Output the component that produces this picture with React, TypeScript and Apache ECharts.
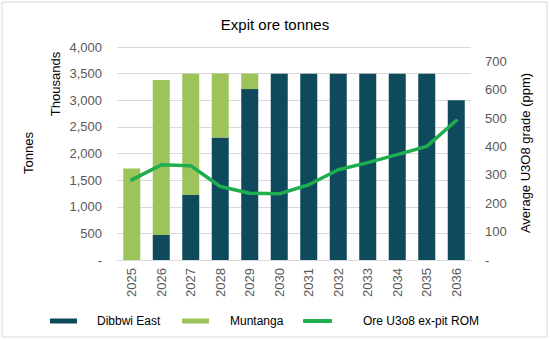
import React, { useEffect, useRef } from "react";
import * as echarts from "echarts";

const years = ["2025", "2026", "2027", "2028", "2029", "2030", "2031", "2032", "2033", "2034", "2035", "2036"];
const dibbwiEast = [0, 470, 1220, 2300, 3210, 3500, 3500, 3500, 3500, 3500, 3500, 3000];
const muntanga = [1720, 2910, 2280, 1200, 290, 0, 0, 0, 0, 0, 0, 0];
const gradePpm = [282, 335, 332, 259, 235, 233, 265, 318, 343, 371, 400, 491];

const FONT = "Liberation Sans, Arial, sans-serif";
const DARK = "#0e4a5c";
const LIGHT = "#9dc35b";
const LINE = "#1ead4f";
const GREY = "#595959";

export default function App() {
  const ref = useRef<HTMLDivElement>(null);
  useEffect(() => {
    if (!ref.current) return;
    const chart = echarts.init(ref.current, null, { renderer: "svg" });
    chart.setOption({
      animation: false,
      backgroundColor: "#ffffff",
      textStyle: { fontFamily: FONT },
      title: {
        text: "Expit ore tonnes",
        left: "center",
        top: 12,
        textStyle: { fontFamily: FONT, fontSize: 15, fontWeight: "normal", color: "#000000" },
      },
      grid: { left: 117, right: 79, top: 47, bottom: 80 },
      xAxis: {
        type: "category",
        data: years,
        axisLine: { show: true, lineStyle: { color: "#d9d9d9" } },
        axisTick: { show: false },
        axisLabel: { rotate: 90, margin: 8, color: GREY, fontSize: 13, fontFamily: FONT },
      },
      yAxis: [
        {
          type: "value",
          min: 0,
          max: 4000,
          interval: 500,
          axisLine: { show: false },
          axisTick: { show: false },
          splitLine: { lineStyle: { color: "#d9d9d9" } },
          axisLabel: {
            margin: 15,
            color: GREY,
            fontSize: 13,
            fontFamily: FONT,
            formatter: (v: number) => (v === 0 ? "-" : v.toLocaleString("en-US")),
          },
        },
        {
          type: "value",
          min: 0,
          max: 750,
          interval: 100,
          axisLine: { show: false },
          axisTick: { show: false },
          splitLine: { show: false },
          axisLabel: {
            margin: 14,
            color: GREY,
            fontSize: 13,
            fontFamily: FONT,
            formatter: (v: number) => (v === 0 ? "-" : v > 700 ? "" : String(v)),
          },
        },
      ],
      legend: [
        {
          data: [{ name: "Dibbwi East", icon: "rect" }],
          left: 45,
          top: 310,
          itemWidth: 27,
          itemHeight: 5,
          textStyle: { fontSize: 12, color: "#000", fontFamily: FONT, padding: [0, 0, 0, 15] },
        },
        {
          data: [{ name: "Muntanga", icon: "rect" }],
          left: 177,
          top: 310,
          itemWidth: 27,
          itemHeight: 5,
          textStyle: { fontSize: 12, color: "#000", fontFamily: FONT, padding: [0, 0, 0, 16] },
        },
        {
          data: [{ name: "Ore U3o8 ex-pit ROM", icon: "roundRect" }],
          left: 298,
          top: 310,
          itemWidth: 29,
          itemHeight: 4,
          textStyle: { fontSize: 12, color: "#000", fontFamily: FONT, padding: [0, 0, 0, 26] },
        },
      ],
      graphic: [
        {
          type: "rect",
          shape: { x: 2, y: 2, width: 545, height: 335 },
          style: { fill: "none", stroke: "#d9d9d9", lineWidth: 1 },
          silent: true,
        },
        {
          type: "text",
          x: 55,
          y: 84,
          rotation: Math.PI / 2,
          style: { text: "Thousands", fontSize: 13, fontFamily: FONT, fill: "#000", align: "center", verticalAlign: "middle" },
        },
        {
          type: "text",
          x: 28,
          y: 153,
          rotation: Math.PI / 2,
          style: { text: "Tonnes", fontSize: 13, fontFamily: FONT, fill: "#000", align: "center", verticalAlign: "middle" },
        },
        {
          type: "text",
          x: 525,
          y: 153,
          rotation: Math.PI / 2,
          style: { text: "Average U3O8 grade (ppm)", fontSize: 13, fontFamily: FONT, fill: "#000", align: "center", verticalAlign: "middle" },
        },
      ],
      series: [
        {
          name: "Dibbwi East",
          type: "bar",
          stack: "ore",
          data: dibbwiEast,
          barWidth: 17,
          itemStyle: { color: DARK },
        },
        {
          name: "Muntanga",
          type: "bar",
          stack: "ore",
          data: muntanga,
          barWidth: 17,
          itemStyle: { color: LIGHT },
        },
        {
          name: "Ore U3o8 ex-pit ROM",
          type: "line",
          yAxisIndex: 1,
          data: gradePpm,
          showSymbol: false,
          symbol: "none",
          lineStyle: { color: LINE, width: 3.5, cap: "round", join: "round" },
          itemStyle: { color: LINE },
        },
      ],
    });
    return () => chart.dispose();
  }, []);
  return <div ref={ref} style={{ position: "fixed", left: 0, top: 0, width: 550, height: 340 }} />;
}
